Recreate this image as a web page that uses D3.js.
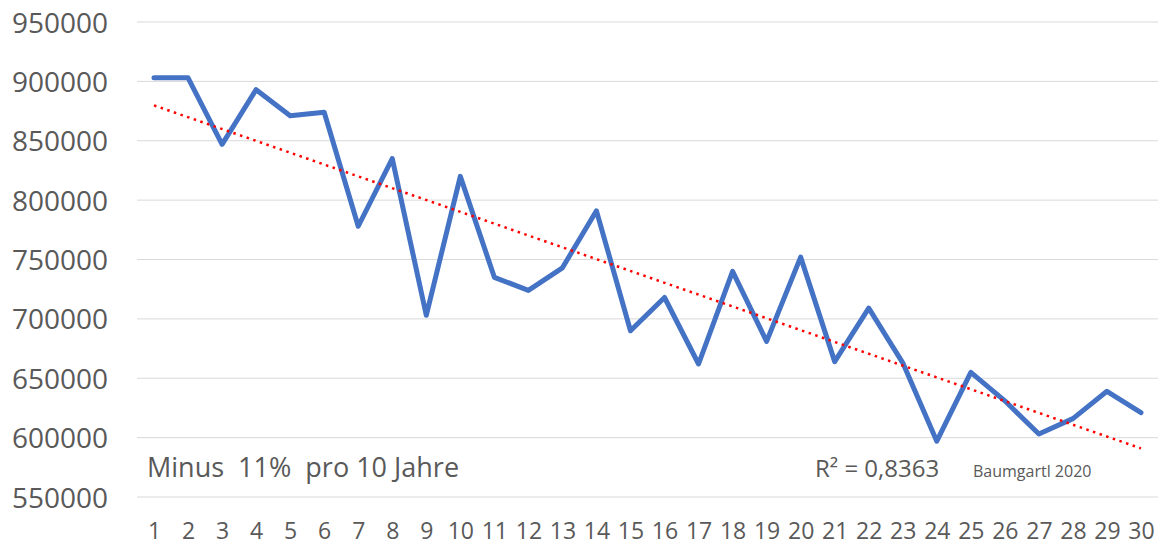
<!DOCTYPE html>
<html>
<head>
<meta charset="utf-8">
<script src="https://cdn.jsdelivr.net/npm/d3@7"></script>
<style>
  body { margin: 0; background: #fff; }
  text { font-family: "Open Sans", "Noto Sans", sans-serif; fill: #595959; }
</style>
</head>
<body>
<div id="chart"></div>
<script>
// data
var years = d3.range(1, 31);
var values = [903000, 903000, 847000, 893000, 871000, 874000, 778000, 835000, 703000, 820000,
              735000, 724000, 743000, 791000, 690000, 718000, 662000, 740000, 681000, 752000,
              664000, 709000, 663000, 597000, 655000, 631000, 603000, 616000, 639000, 621000];
var yTicks = [550000, 600000, 650000, 700000, 750000, 800000, 850000, 900000, 950000];
var noteText = "Minus  11%  pro 10 Jahre";
var r2Text = "R² = 0,8363";
var creditText = "Baumgartl 2020";

var svgWidth = 1172;
var svgHeight = 547;

var svg = d3.select("#chart")
    .append("svg")
    .attr("width", svgWidth)
    .attr("height", svgHeight);

var x = d3.scalePoint()
    .domain(years)
    .range([137, 1158])
    .padding(0.5);

var y = d3.scaleLinear()
    .domain([550000, 950000])
    .range([497, 22]);

// gridlines
svg.append("g")
    .selectAll("line")
    .data(yTicks)
    .enter()
    .append("line")
    .attr("x1", 137)
    .attr("x2", 1158)
    .attr("y1", d => y(d))
    .attr("y2", d => y(d))
    .attr("stroke", "#d9d9d9")
    .attr("stroke-width", 1);

// y labels
var leftAxis = d3.axisLeft(y).tickValues(yTicks).tickFormat(d3.format("d")).tickSize(0).tickPadding(0);
var yAxisG = svg.append("g")
    .attr("transform", "translate(108,0)")
    .call(leftAxis);
yAxisG.select(".domain").remove();
yAxisG.selectAll("text")
    .style("font-family", "'Open Sans', sans-serif")
    .style("font-size", "28px")
    .attr("fill", "#595959")
    .attr("dy", "0.36em");

// x labels
var bottomAxis = d3.axisBottom(x).tickSize(0).tickPadding(0);
var xAxisG = svg.append("g")
    .attr("transform", "translate(0,531)")
    .call(bottomAxis);
xAxisG.select(".domain").remove();
xAxisG.selectAll("text")
    .style("font-family", "'Open Sans', sans-serif")
    .style("font-size", "23px")
    .attr("fill", "#595959")
    .attr("y", 0)
    .attr("dy", "0.36em");

// data line
var line = d3.line()
    .x((d, i) => x(years[i]))
    .y(d => y(d));

svg.append("path")
    .datum(values)
    .attr("d", line)
    .attr("fill", "none")
    .attr("stroke", "#4472c4")
    .attr("stroke-width", 5)
    .attr("stroke-linejoin", "round")
    .attr("stroke-linecap", "round");

// linear trend (least squares)
var mx = d3.mean(years);
var my = d3.mean(values);
var sxy = d3.sum(years, (t, i) => (t - mx) * (values[i] - my));
var sxx = d3.sum(years, t => (t - mx) * (t - mx));
var slope = sxy / sxx;
var icpt = my - slope * mx;
var trendPts = [years[0], years[years.length - 1]];

svg.append("line")
    .attr("x1", x(trendPts[0]))
    .attr("y1", y(icpt + slope * trendPts[0]))
    .attr("x2", x(trendPts[1]))
    .attr("y2", y(icpt + slope * trendPts[1]))
    .attr("stroke", "#ff0000")
    .attr("stroke-width", 2.5)
    .attr("stroke-dasharray", "2.5,4.5");

// annotations
svg.append("text")
    .attr("x", 147)
    .attr("y", 477)
    .style("font-size", "27px")
    .style("white-space", "pre")
    .attr("xml:space", "preserve")
    .text(noteText);

svg.append("text")
    .attr("x", 815)
    .attr("y", 477)
    .style("font-size", "24px")
    .text(r2Text);

svg.append("text")
    .attr("x", 973)
    .attr("y", 477)
    .style("font-size", "16px")
    .text(creditText);
</script>
</body>
</html>
